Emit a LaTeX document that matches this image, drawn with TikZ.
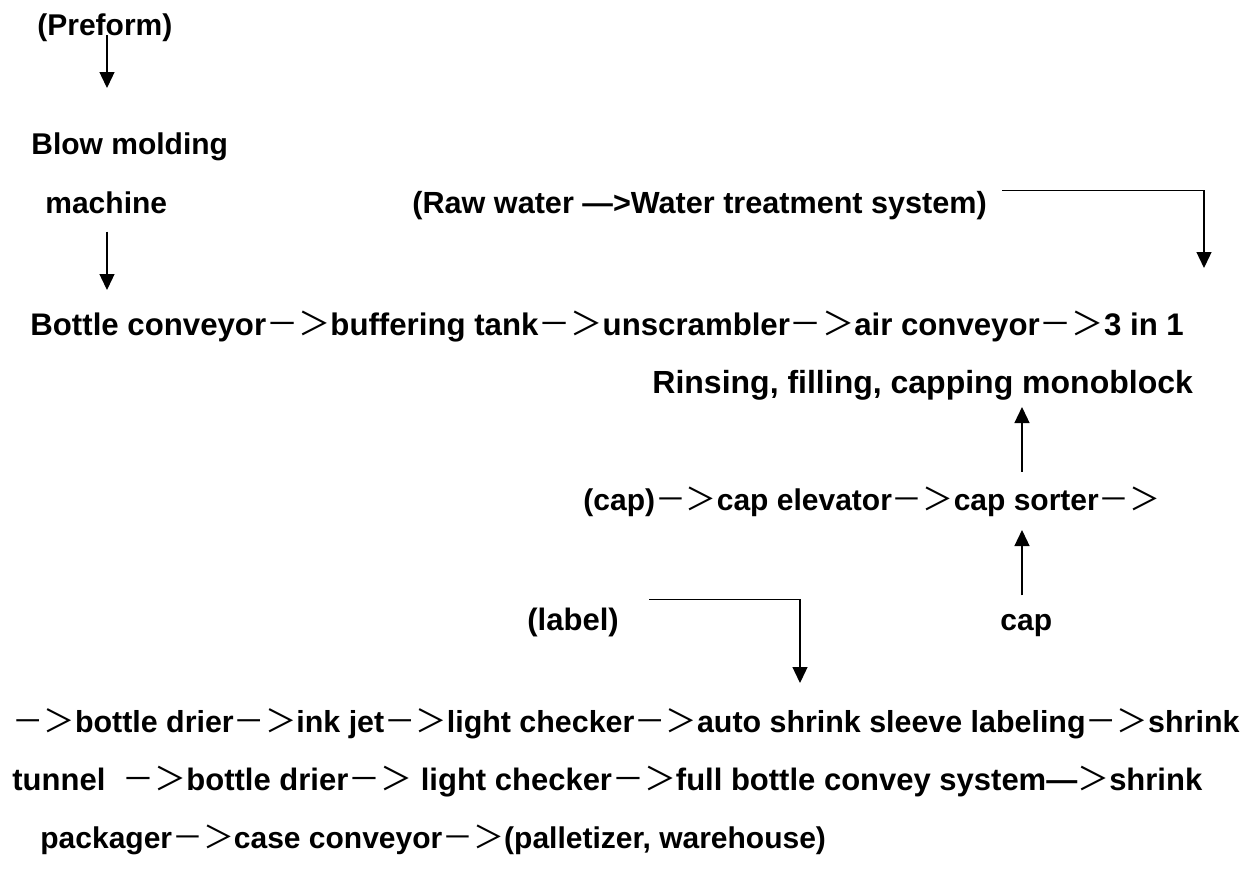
\documentclass[tikz,border=0pt]{standalone}
\usepackage{fontspec}
\setmainfont{Liberation Sans}
\newfontfamily\cjk[Scale=1.03]{Noto Sans CJK SC}
\usetikzlibrary{arrows.meta}
\newcommand{\nx}{{\cjk\mdseries －＞}}

\tikzset{
  txt/.style={inner sep=0pt, anchor=base west, font=\fontsize{#1}{18}\selectfont\bfseries},
  txt/.default=15,
  flow/.style={line width=0.65pt, -{Triangle[length=8pt,width=7.5pt]}},
}

\begin{document}
\begin{tikzpicture}[x=0.5pt, y=-0.5pt]
\useasboundingbox (0,0) rectangle (1248,875);
\node[txt] (preform) at (37,35) {(Preform)};
\node[txt] (blow) at (31,154) {Blow molding};
\node[txt] (machine) at (45,213) {machine};
\node[txt=15.3] (raw) at (412,213) {(Raw water —>Water treatment system)};
\node[txt=15.6] (main) at (30,335) {Bottle conveyor\nx buffering tank\nx unscrambler\nx air conveyor\nx 3 in 1};
\node[txt=16] (mono) at (652,393) {Rinsing, filling, capping monoblock};
\node[txt] (caprow) at (583,510) {(cap)\nx cap elevator\nx cap sorter\nx};
\node[txt=15.5] (label) at (527,630) {(label)};
\node[txt] (cap) at (1000,630) {cap};
\node[txt=15.2] (lineA) at (12,732) {\nx bottle drier\nx ink jet\nx light checker\nx auto shrink sleeve labeling\nx shrink};
\node[txt=15.5] (lineB) at (12,790) {tunnel \ \nx bottle drier\nx\ light checker\nx full bottle convey system—{\cjk\mdseries ＞}shrink};
\node[txt] (lineC) at (40,848) {packager\nx case conveyor\nx(palletizer, warehouse)};

\coordinate (blowin) at (107,88);
\coordinate (convin) at (107,290);
\coordinate (fillin) at (1204,268);
\coordinate (capin) at (1022,530);
\coordinate (monoin) at (1022,407);
\coordinate (labin) at (800,683);

\draw[flow] (preform.base -| blowin) -- (blowin);
\draw[flow] (machine.south -| convin) ++(0,18) -- (convin);
\draw[flow] ([xshift=7.5pt]raw.north east) -| (fillin);
\draw[flow] (cap.north -| capin) ++(0,-18) -- (capin);
\draw[flow] (caprow.south -| monoin) ++(0,-45) -- (monoin);
\draw[flow] ([xshift=15pt,yshift=4pt]label.north east) -| (labin);
\end{tikzpicture}
\end{document}
